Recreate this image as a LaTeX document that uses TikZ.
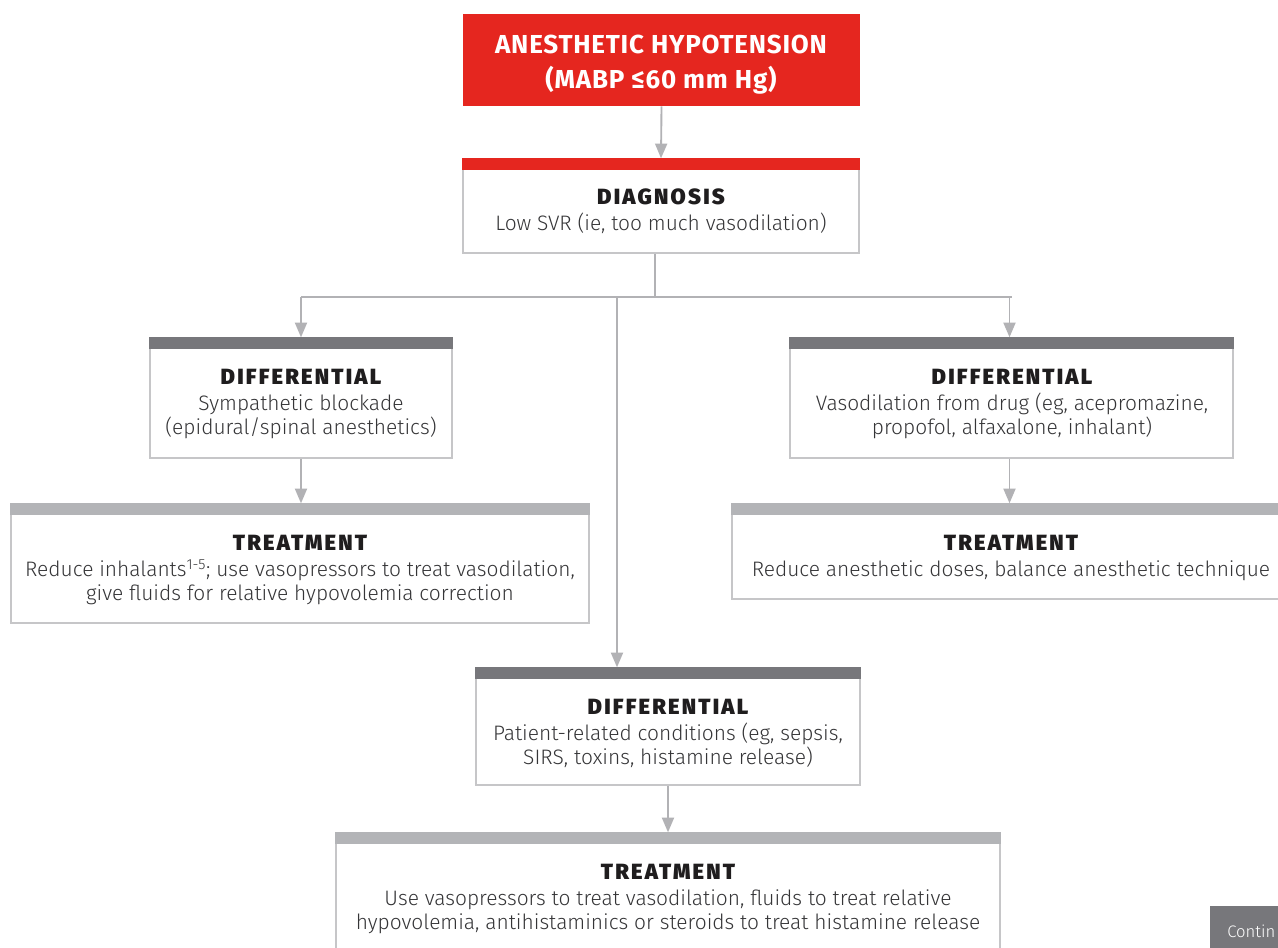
\documentclass[tikz,border=0pt]{standalone}
\usepackage{fontspec}
\usetikzlibrary{arrows.meta}
\newfontfamily\bodyf{Fira Sans Light}
\newfontfamily\headf[LetterSpace=10]{Fira Sans Black}
\newfontfamily\redf[LetterSpace=3]{Fira Sans Bold}
\definecolor{redc}{HTML}{E5261F}
\definecolor{darkbar}{HTML}{77777B}
\definecolor{lightbar}{HTML}{B3B4B7}
\definecolor{bordc}{HTML}{C6C6C8}
\definecolor{linec}{HTML}{B2B2B5}
\definecolor{bodyc}{HTML}{353537}
\definecolor{ttlc}{HTML}{1F1D1E}
\tikzset{
  boxst/.style={draw=bordc, line width=1.1pt, fill=white, rectangle, inner sep=0pt},
  conn/.style={draw=linec, line width=1.4pt},
  arr/.style={conn, -{Triangle[width=9pt,length=11pt]}},
  ttl/.style={anchor=base, inner sep=0pt, text=ttlc, font=\headf\fontsize{16.5}{19}\selectfont},
  txt/.style={anchor=base, inner sep=0pt, text=bodyc, font=\bodyf\fontsize{15.7}{19}\selectfont},
  redtxt/.style={anchor=base, inner sep=0pt, text=white, font=\redf\fontsize{19.5}{23}\selectfont},
}
\newcommand\flowbox[6]{%
  \node[boxst, minimum width={(#4-#2)*0.75pt}, minimum height={(#5-#3)*0.75pt}] (#1) at ({(#2+#4)/2},{(#3+#5)/2}) {};
  \fill[#6] ([xshift=-0.55pt,yshift=0.55pt]#1.north west) rectangle ([xshift=0.55pt,yshift=-9pt]#1.north east);
}
\begin{document}
\begin{tikzpicture}[x=0.75pt,y=-0.75pt]
\useasboundingbox (0,0) rectangle (1278,947);
\clip (0,0) rectangle (1278,947);
\fill[white] (0,0) rectangle (1278,947);

% top red box
\node[fill=redc, minimum width={397*0.75pt}, minimum height={92*0.75pt}, inner sep=0pt] (top) at (661.5,60) {};
\node[redtxt] (topA) at (661,53) {ANESTHETIC HYPOTENSION};
\node[redtxt] (topB) at (661,88) {(MABP ≤60 mm Hg)};

% boxes
\flowbox{diag}{463}{159}{859}{253}{redc}
\flowbox{ldiff}{150}{338}{452}{458}{darkbar}
\flowbox{ltreat}{11}{504}{589}{623}{lightbar}
\flowbox{rdiff}{790}{338}{1233}{458}{darkbar}
\flowbox{rtreat}{732}{504}{1290}{599}{lightbar}
\flowbox{mdiff}{476}{668}{860}{785}{darkbar}
\flowbox{btreat}{336}{833}{1000}{965}{lightbar}

% texts
\node[ttl] (diagT) at (661,204) {DIAGNOSIS};
\node[txt] (diagL1) at (661,230) {Low SVR (ie, too much vasodilation)};

\node[ttl] (ldiffT) at (301,384) {DIFFERENTIAL};
\node[txt] (ldiffL1) at (301,410) {Sympathetic blockade};
\node[txt] (ldiffL2) at (301,434) {(epidural/spinal anesthetics)};

\node[ttl] (ltreatT) at (300,550) {TREATMENT};
\node[txt] (ltreatL1) at (300,576) {Reduce inhalants\textsuperscript{1-5}; use vasopressors to treat vasodilation,};
\node[txt] (ltreatL2) at (300,600) {give fluids for relative hypovolemia correction};

\node[ttl] (rdiffT) at (1012,384) {DIFFERENTIAL};
\node[txt] (rdiffL1) at (1012,410) {Vasodilation from drug (eg, acepromazine,};
\node[txt] (rdiffL2) at (1012,434) {propofol, alfaxalone, inhalant)};

\node[ttl] (rtreatT) at (1011,550) {TREATMENT};
\node[txt] (rtreatL1) at (1011,576) {Reduce anesthetic doses, balance anesthetic technique};

\node[ttl] (mdiffT) at (668,714) {DIFFERENTIAL};
\node[txt] (mdiffL1) at (668,740) {Patient-related conditions (eg, sepsis,};
\node[txt] (mdiffL2) at (668,764) {SIRS, toxins, histamine release)};

\node[ttl] (btreatT) at (668,879) {TREATMENT};
\node[txt] (btreatL1) at (668,905) {Use vasopressors to treat vasodilation, fluids to treat relative};
\node[txt] (btreatL2) at (668,929) {hypovolemia, antihistaminics or steroids to treat histamine release};

% continued tab
\node[fill=darkbar, minimum width={80*0.75pt}, minimum height={45*0.75pt}, inner sep=0pt, anchor=north west] (cont) at (1210,906) {};
\node[anchor=base west, inner sep=0pt, text=white, font=\bodyf\fontsize{12.5}{14}\selectfont] (contT) at (1227,937) {Contin};

% connectors
\coordinate (jd) at ([xshift=-4.5pt]diag.south);
\draw[arr] (top.south) -- (diag.north);
\draw[conn] (jd) -- (jd|-0,297) coordinate (jc);
\draw[conn] (ldiff.north|-jc) -- (rdiff.north|-jc);
\draw[arr] (ldiff.north|-jc) -- (ldiff.north);
\draw[arr] ([xshift=-1.5pt]rdiff.north|-jc) -- ([xshift=-1.5pt]rdiff.north);
\coordinate (jm) at (617,297);
\draw[arr] (jm) -- (jm|-mdiff.north);
\draw[arr] (ldiff.south) -- (ldiff.south|-ltreat.north);
\draw[arr] ([xshift=-1.5pt]rdiff.south) -- ([xshift=-1.5pt]rdiff.south|-rtreat.north);
\draw[arr] (mdiff.south) -- (btreat.north);
\end{tikzpicture}
\end{document}
